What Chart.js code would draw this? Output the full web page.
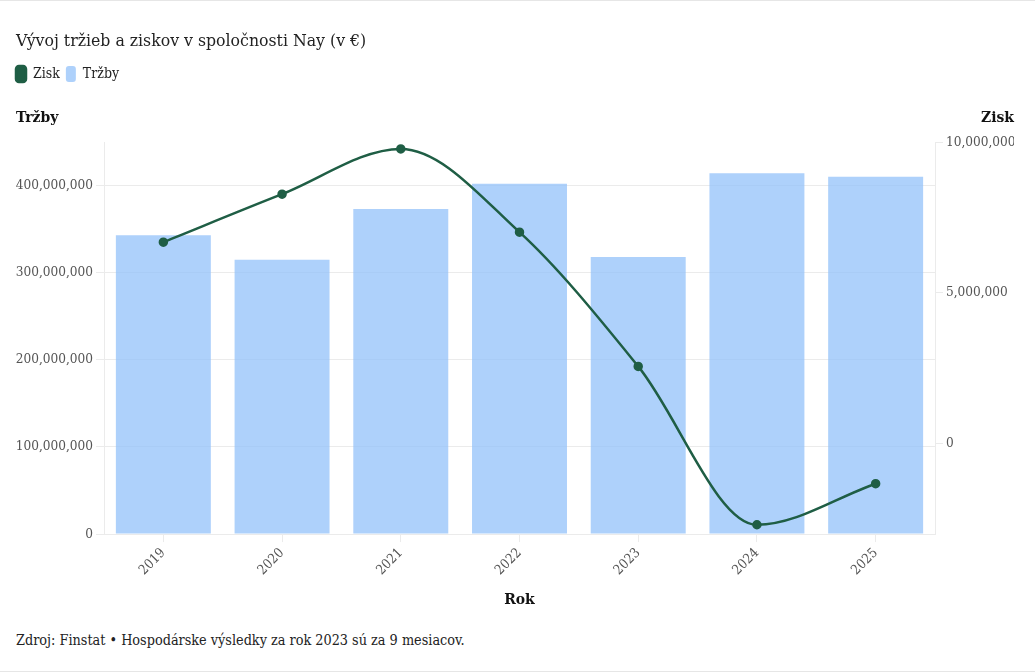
<!DOCTYPE html>
<html lang="sk">
<head>
<meta charset="utf-8">
<title>Vývoj tržieb a ziskov</title>
<script src="https://cdn.jsdelivr.net/npm/chart.js@4"></script>
<style>
    html, body { margin: 0; padding: 0; background: #fff; }
    .wrap {
        width: 1035px;
        height: 672px;
        box-sizing: border-box;
        border-top: 1px solid #e6e6e6;
        border-bottom: 1px solid #e6e6e6;
        position: relative;
    }
    .chart-box { position: absolute; left: 0; top: 0; width: 1035px; height: 608px; }
    .source {
        position: absolute;
        left: 16px;
        top: 631px;
        margin: 0;
        font: 14.3px "DejaVu Serif Condensed", "DejaVu Serif", serif;
        color: #222;
    }
</style>
</head>
<body>
<div class="wrap">
    <div class="chart-box"><canvas id="combo"></canvas></div>
    <p class="source">Zdroj: Finstat • Hospodárske výsledky za rok 2023 sú za 9 mesiacov.</p>
</div>

<script>
const years = ['2019', '2020', '2021', '2022', '2023', '2024', '2025'];
const trzby = [343000000, 315000000, 373000000, 402000000, 318000000, 414000000, 410000000];
const zisk = [6680000, 8270000, 9770000, 7010000, 2560000, -2690000, -1330000];
const trzbyTicks = [0, 100000000, 200000000, 300000000, 400000000];
const ziskTicks = [0, 5000000, 10000000];

const FONT = '"DejaVu Serif Condensed", "DejaVu Serif", serif';

// nadpisy osí nad grafom (Tržby vľavo, Zisk vpravo)
const axisHeads = {
    id: 'axisHeads',
    afterDraw(chart) {
        const { ctx, chartArea } = chart;
        ctx.save();
        ctx.font = 'bold 15.5px ' + FONT;
        ctx.fillStyle = '#111';
        ctx.textBaseline = 'middle';
        ctx.textAlign = 'left';
        ctx.fillText('Tržby', 16, chartArea.top - 24);
        ctx.textAlign = 'right';
        ctx.fillText('Zisk', chart.width - 21, chartArea.top - 24);
        ctx.restore();
    }
};

// viac miesta pod legendou, legenda zarovnaná s nadpisom
const legendGap = {
    id: 'legendGap',
    beforeInit(chart) {
        const fit = chart.legend.fit;
        chart.legend.fit = function () {
            fit.bind(chart.legend)();
            this.height += 50;
        };
    },
    afterLayout(chart) {
        chart.legend.left -= 6;
        chart.legend.right -= 6;
    }
};

const fixedTicks = (values) => (scale) => {
    scale.ticks = values.map(v => ({ value: v }));
};

document.addEventListener('DOMContentLoaded', () => {
    const ctx = document.getElementById('combo')?.getContext('2d');
    if (!ctx) return;

    Chart.defaults.font.family = FONT;
    Chart.defaults.color = '#555';

    const data = {
        labels: years,
        datasets: [
            {
                type: 'line',
                label: 'Zisk',
                data: zisk,
                yAxisID: 'y1',
                borderColor: '#1f5e45',
                backgroundColor: '#1f5e45',
                borderWidth: 2.5,
                pointRadius: 3.5,
                cubicInterpolationMode: 'monotone',
                order: 0
            },
            {
                type: 'bar',
                label: 'Tržby',
                data: trzby,
                yAxisID: 'y',
                backgroundColor: 'rgba(147, 193, 250, 0.75)',
                categoryPercentage: 0.8,
                barPercentage: 1,
                order: 1
            }
        ]
    };

    const config = {
        data: data,
        options: {
            responsive: true,
            maintainAspectRatio: false,
            animation: false,
            layout: { padding: { left: 16, right: 21, top: 0, bottom: 0 } },
            plugins: {
                title: {
                    display: true,
                    text: 'Vývoj tržieb a ziskov v spoločnosti Nay (v €)',
                    align: 'start',
                    color: '#222',
                    font: { size: 17.5, weight: 'normal' },
                    padding: { top: 30, bottom: 8 }
                },
                legend: {
                    align: 'start',
                    labels: {
                        boxWidth: 10,
                        boxHeight: 16,
                        useBorderRadius: true,
                        borderRadius: 3,
                        padding: 6,
                        color: '#222',
                        font: { size: 14 }
                    }
                },
                tooltip: { enabled: false }
            },
            scales: {
                x: {
                    offset: true,
                    grid: { offset: false, drawOnChartArea: false, color: '#ebebeb', tickLength: 8 },
                    border: { color: '#ebebeb' },
                    ticks: { minRotation: 45, maxRotation: 45, font: { size: 13.5 } },
                    title: {
                        display: true,
                        text: 'Rok',
                        color: '#111',
                        font: { size: 15.5, weight: 'bold' },
                        padding: { top: 9, bottom: 0 }
                    }
                },
                y: {
                    position: 'left',
                    min: 0,
                    max: 450000000,
                    grid: { color: '#ebebeb', tickLength: 8 },
                    border: { color: '#ebebeb' },
                    ticks: { font: { size: 13.5 } },
                    afterBuildTicks: fixedTicks(trzbyTicks),
                    afterFit: (scale) => { scale.width = 88; }
                },
                y1: {
                    position: 'right',
                    min: -3000000,
                    max: 10000000,
                    grid: { drawOnChartArea: false, color: '#ebebeb', tickLength: 8 },
                    border: { color: '#ebebeb' },
                    ticks: { font: { size: 13.5 } },
                    afterBuildTicks: fixedTicks(ziskTicks),
                    afterFit: (scale) => { scale.width = 79; }
                }
            }
        },
        plugins: [axisHeads, legendGap]
    };

    new Chart(ctx, config);
});
</script>
</body>
</html>
